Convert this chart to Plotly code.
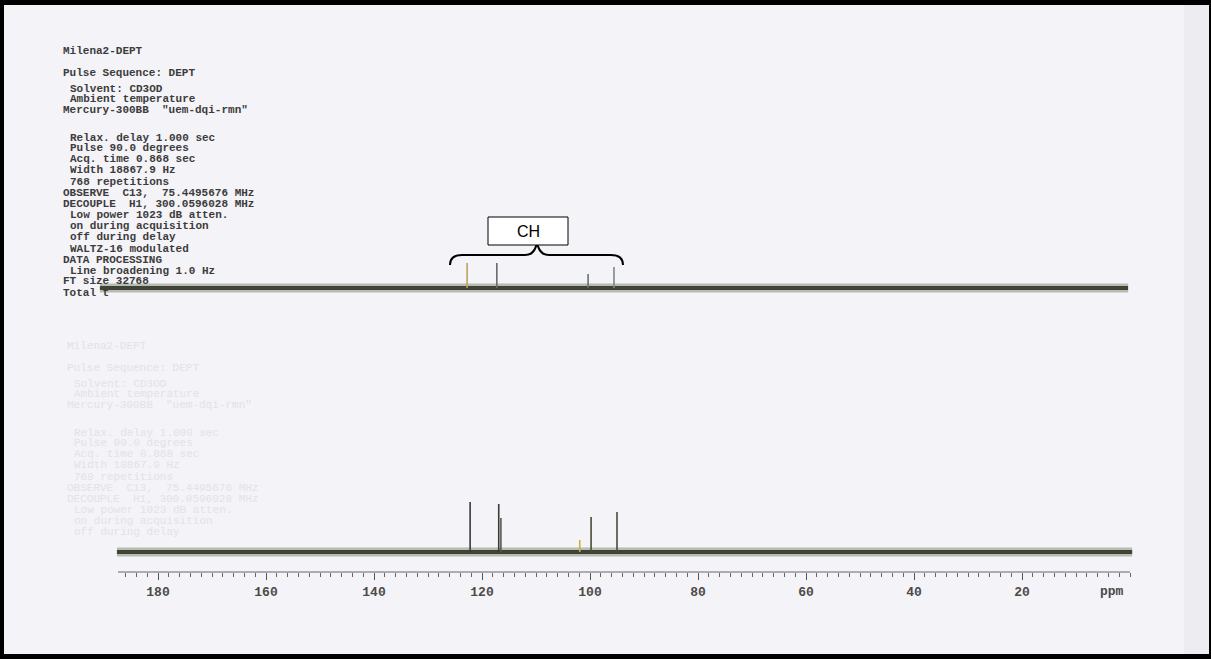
import plotly.graph_objects as go

W, H = 1211, 659

# ---------------- data ----------------
# bottom spectrum (13C) peaks: chemical shift (ppm) and intensity
bottom_ppm = [122.2, 116.9, 116.5, 101.9, 99.8, 95.0]
bottom_int = [50, 48, 34, 12, 35, 40]
bottom_col = ["#3a3a3a", "#3a3a3a", "#5a5a4a", "#c8b048", "#4a4a3a", "#4a4a3a"]
bottom_span = [187.6, -0.4]

# top spectrum (DEPT, CH) peaks
top_ppm = [122.2, 116.7, 99.8, 95.0]
top_int = [25, 25, 14, 21]
top_col = ["#b8a65c", "#6a6a6a", "#6a6f78", "#7a8a80"]
top_span = [190.2, -0.2]

major_ticks = [180, 170, 160, 150, 140, 130, 120, 110, 100, 90, 80, 70, 60, 50,
               40, 30, 20, 10, 0]
major_labels = ["180", "", "160", "", "140", "", "120", "", "100", "", "80", "",
                "60", "", "40", "", "20", "", ""]
minor_ticks = list(range(0, 188, 2))

header_lines = [
    (51, 0, "Milena2-DEPT"),
    (73, 0, "Pulse Sequence: DEPT"),
    (89, 1, "Solvent: CD3OD"),
    (99, 1, "Ambient temperature"),
    (110, 0, 'Mercury-300BB  "uem-dqi-rmn"'),
    (138, 1, "Relax. delay 1.000 sec"),
    (148, 1, "Pulse 90.0 degrees"),
    (159, 1, "Acq. time 0.868 sec"),
    (170, 1, "Width 18867.9 Hz"),
    (182, 1, "768 repetitions"),
    (193, 0, "OBSERVE  C13,  75.4495676 MHz"),
    (204, 0, "DECOUPLE  H1, 300.0596028 MHz"),
    (215, 1, "Low power 1023 dB atten."),
    (226, 1, "on during acquisition"),
    (237, 1, "off during delay"),
    (249, 1, "WALTZ-16 modulated"),
    (260, 0, "DATA PROCESSING"),
    (271, 1, "Line broadening 1.0 Hz"),
    (281, 0, "FT size 32768"),
    (293, 0, "Total t"),
]

# ---------------- helpers ----------------
def px(x):
    return x / W

def py(y):
    return 1 - y / H

PPM_PX = 5.4       # pixels per ppm
ZERO_PX = 1130     # pixel of 0 ppm on bottom axis
DOM_L, DOM_R = 95, 1140

def ppm_range(zero_px):
    return [(zero_px - DOM_L) / PPM_PX, (zero_px - DOM_R) / PPM_PX]

fig = go.Figure()

noise_col = "#3e4434"

def add_spectrum(span, ppm, inten, cols, xa, ya):
    fig.add_trace(go.Scatter(x=span, y=[0, 0], mode="lines",
                             line=dict(color="#5f6a48", width=9), opacity=0.4,
                             xaxis=xa, yaxis=ya, hoverinfo="skip"))
    fig.add_trace(go.Scatter(x=span, y=[0, 0], mode="lines",
                             line=dict(color=noise_col, width=4),
                             xaxis=xa, yaxis=ya, hoverinfo="skip"))
    for p, h, c in zip(ppm, inten, cols):
        fig.add_trace(go.Scatter(x=[p, p], y=[0, h], mode="lines",
                                 line=dict(color=c, width=1.6),
                                 xaxis=xa, yaxis=ya, hoverinfo="skip"))

add_spectrum(bottom_span, bottom_ppm, bottom_int, bottom_col, "x", "y")
add_spectrum(top_span, top_ppm, top_int, top_col, "x2", "y2")

# ---------------- axes ----------------
dom = [px(DOM_L), px(DOM_R)]
tickfont = dict(family="Liberation Mono", size=13, color="#4a4a4a", weight="bold")

layout_axes = dict(
    xaxis=dict(domain=dom, range=ppm_range(ZERO_PX), showgrid=False,
               zeroline=False, showline=False, fixedrange=True,
               anchor="y", ticks="outside", ticklen=7, tickwidth=1,
               tickcolor="#555555", tickmode="array", tickvals=major_ticks,
               ticktext=major_labels, tickfont=tickfont,
               minor=dict(tickmode="array", tickvals=minor_ticks, ticks="outside",
                          ticklen=4, tickwidth=1, tickcolor="#666666",
                          showgrid=False)),
    xaxis2=dict(domain=dom, range=ppm_range(ZERO_PX - 3), visible=False,
                anchor="y2", fixedrange=True),
    yaxis=dict(domain=[py(572), py(470)], range=[-20, 82], visible=False,
               fixedrange=True),
    yaxis2=dict(domain=[py(300), py(240)], range=[-12, 48], visible=False,
                fixedrange=True),
)

# ---------------- shapes ----------------
shapes = []
# paper edge strip on the right
shapes.append(dict(type="rect", xref="paper", yref="paper", x0=px(1184), x1=px(1209),
                   y0=py(659), y1=py(0), fillcolor="#edecf1", line=dict(width=0),
                   layer="below"))
# axis line (bottom)
shapes.append(dict(type="line", xref="x", yref="paper", x0=187.4, x1=0,
                   y0=py(572), y1=py(572), line=dict(color="#666666", width=1)))
# black scan border
for x0, x1, y0, y1 in [(0, 1211, 0, 5), (0, 4, 0, 659), (0, 1211, 654, 659),
                       (1209, 1211, 0, 659)]:
    shapes.append(dict(type="rect", xref="paper", yref="paper",
                       x0=px(x0), x1=px(x1), y0=py(y1), y1=py(y0),
                       fillcolor="black", line=dict(width=0)))

# curly brace
def P(x, y):
    return f"{px(x):.5f},{py(y):.5f}"

brace = (f"M {P(450,265)} Q {P(450,255)} {P(462,255)} L {P(525,255)} "
         f"Q {P(535,255)} {P(537,242)} Q {P(539,255)} {P(549,255)} "
         f"L {P(611,255)} Q {P(623,255)} {P(623,265)}")
shapes.append(dict(type="path", xref="paper", yref="paper", path=brace,
                   line=dict(color="black", width=2)))
# CH box
shapes.append(dict(type="rect", xref="paper", yref="paper",
                   x0=px(488), x1=px(568), y0=py(245), y1=py(217),
                   fillcolor="white", line=dict(color="black", width=1)))

# ---------------- annotations ----------------
annotations = []
mono = "Liberation Mono"
for y, ind, t in header_lines:
    annotations.append(dict(x=px(61 + 6.6 * ind), y=py(y), xref="paper", yref="paper",
                            xanchor="left", yanchor="middle", showarrow=False,
                            text=t.replace(" ", "\u00a0"),
                            font=dict(family=mono, size=11, color="#3c3c3c",
                                      weight="bold")))
# faint bleed-through of the header from the reverse page
for y, ind, t in header_lines:
    if y + 295 < 540:
        annotations.append(dict(x=px(65 + 6.6 * ind), y=py(y + 295), xref="paper",
                                yref="paper", xanchor="left", yanchor="middle",
                                showarrow=False, text=t.replace(" ", "\u00a0"),
                                font=dict(family=mono, size=11, color="#e3e2e8")))
annotations.append(dict(x=px(528), y=py(231), xref="paper", yref="paper",
                        showarrow=False, text="CH",
                        font=dict(family="Liberation Sans", size=16, color="black")))
annotations.append(dict(x=px(1112), y=py(582), xref="paper", yref="paper",
                        xanchor="center", yanchor="top",
                        showarrow=False, text="ppm", font=tickfont))

fig.update_layout(
    width=W, height=H, margin=dict(l=0, r=0, t=0, b=0),
    paper_bgcolor="#f4f3f7", plot_bgcolor="rgba(0,0,0,0)",
    showlegend=False, shapes=shapes, annotations=annotations,
    **layout_axes,
)

fig.write_html("out.html", config={"displayModeBar": False})
